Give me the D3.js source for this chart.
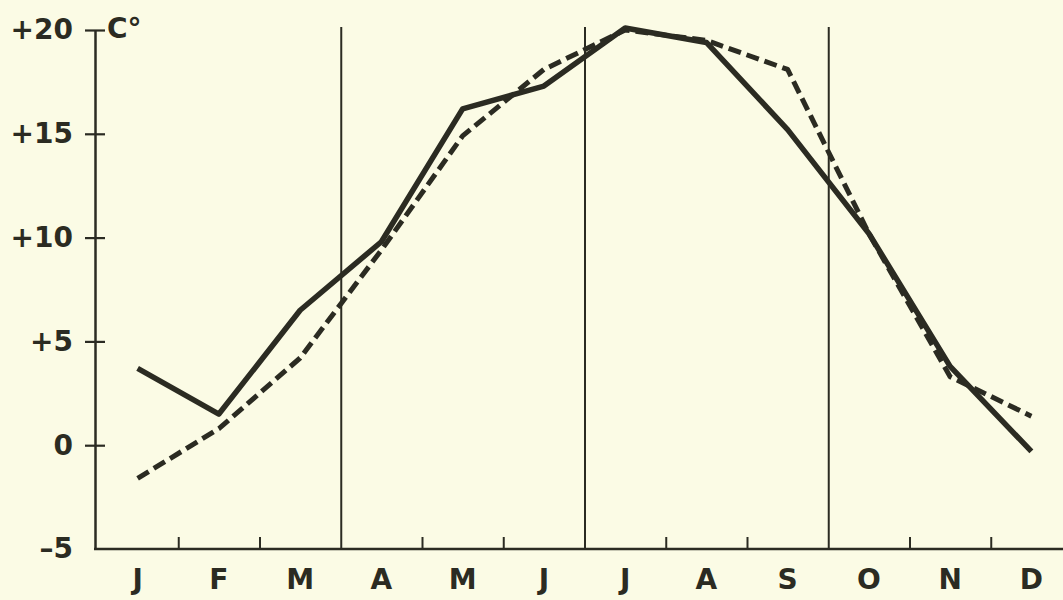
<!DOCTYPE html>
<html>
<head>
<meta charset="utf-8">
<script src="https://cdn.jsdelivr.net/npm/d3@7"></script>
<style>
  html, body { margin: 0; padding: 0; background: #fbfbe5; }
  svg { display: block; }
  text { font-family: "DejaVu Sans", sans-serif; font-weight: bold; fill: #2b2b22; }
</style>
</head>
<body>
<svg id="chart" width="1063" height="600"></svg>
<script>
const months = ["J", "F", "M", "A", "M", "J", "J", "A", "S", "O", "N", "D"];
const solidTemps = [3.7, 1.5, 6.5, 9.8, 16.2, 17.3, 20.1, 19.4, 15.2, 10.2, 3.8, -0.3];
const dashedTemps = [-1.6, 0.8, 4.2, 9.4, 14.9, 18.1, 20.0, 19.5, 18.1, 10.2, 3.3, 1.4];
const yTicks = [-5, 0, 5, 10, 15, 20];
const seasonBreaks = [3, 6, 9];

const ink = "#2b2b22";
const svg = d3.select("#chart");

const plotLeft = 97, plotRight = 1072, plotTop = 30, plotBottom = 549;

const x = d3.scaleBand()
    .domain(d3.range(months.length))
    .range([plotLeft, plotRight]);
const xEdge = d3.scaleLinear()
    .domain([0, months.length])
    .range([plotLeft, plotRight]);
const y = d3.scaleLinear()
    .domain([-5, 20])
    .range([plotBottom, plotTop]);

const fmt = d => d > 0 ? "+" + d : d < 0 ? "\u2013" + Math.abs(d) : "0";

// y axis
const yAxis = svg.append("g")
    .attr("transform", `translate(${plotLeft - 2},0)`)
    .call(d3.axisLeft(y).tickValues(yTicks).tickFormat(fmt).tickSizeInner(10).tickSizeOuter(0).tickPadding(12));
yAxis.select(".domain").attr("stroke", ink).attr("stroke-width", 2.5);
yAxis.selectAll(".tick line")
    .attr("x1", -10).attr("x2", 10)
    .attr("stroke", ink).attr("stroke-width", 2.2)
    .filter(d => d === -5).remove();
yAxis.selectAll(".tick text")
    .attr("font-size", 28)
    .attr("fill", ink)
    .attr("font-family", "DejaVu Sans, sans-serif")
    .attr("font-weight", "bold");

svg.append("text")
    .attr("x", 107)
    .attr("y", 38)
    .attr("font-size", 28)
    .text("C°");

// month boundary ticks and season lines
const edgeAxis = svg.append("g")
    .attr("transform", `translate(0,${plotBottom})`)
    .call(d3.axisBottom(xEdge).tickValues(d3.range(1, months.length)).tickFormat("").tickSizeInner(-12).tickSizeOuter(0));
edgeAxis.select(".domain").attr("stroke", ink).attr("stroke-width", 2.5)
    .attr("d", `M${plotLeft - 3},0H${plotRight}`);
edgeAxis.selectAll(".tick line")
    .attr("stroke", ink).attr("stroke-width", 2)
    .filter(d => seasonBreaks.includes(d))
    .attr("y2", -(plotBottom - 27));

// month labels
const monthAxis = svg.append("g")
    .attr("transform", `translate(0,${plotBottom})`)
    .call(d3.axisBottom(x).tickFormat(i => months[i]).tickSize(0).tickPadding(20));
monthAxis.select(".domain").remove();
monthAxis.selectAll(".tick text")
    .attr("font-size", 28)
    .attr("fill", ink)
    .attr("font-family", "DejaVu Sans, sans-serif")
    .attr("font-weight", "bold");

// temperature curves
const line = d3.line()
    .x((d, i) => x(i) + x.bandwidth() / 2)
    .y(d => y(d));

svg.append("path")
    .datum(dashedTemps)
    .attr("d", line)
    .attr("fill", "none")
    .attr("stroke", ink)
    .attr("stroke-width", 5)
    .attr("stroke-dasharray", "13,6")
    .attr("stroke-linejoin", "round");

svg.append("path")
    .datum(solidTemps)
    .attr("d", line)
    .attr("fill", "none")
    .attr("stroke", ink)
    .attr("stroke-width", 5.5)
    .attr("stroke-linejoin", "round");
</script>
</body>
</html>
